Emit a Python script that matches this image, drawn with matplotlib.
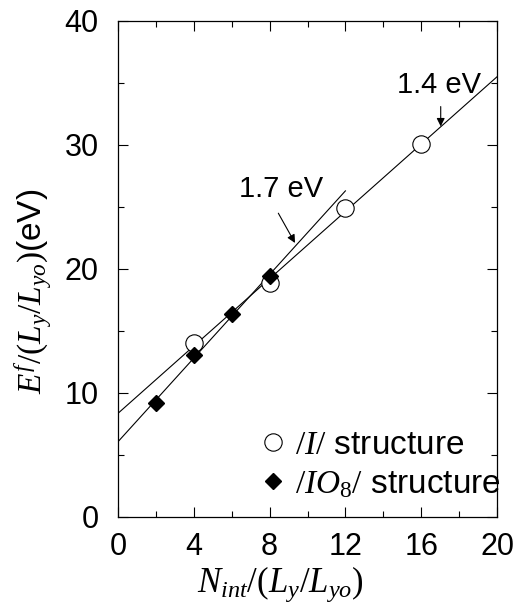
import matplotlib
matplotlib.use("Agg")
import matplotlib.pyplot as plt
from matplotlib.ticker import MultipleLocator

plt.rcParams['font.family'] = ['Liberation Sans', 'DejaVu Sans']
plt.rcParams['mathtext.fontset'] = 'custom'
plt.rcParams['mathtext.it'] = 'Liberation Serif:italic'
plt.rcParams['mathtext.rm'] = 'Liberation Serif'
plt.rcParams['mathtext.bf'] = 'Liberation Serif:bold'

# Data
i_x = [4, 8, 12, 16]
i_y = [14.05, 18.85, 24.9, 30.1]
io8_x = [2, 4, 6, 8]
io8_y = [9.2, 13.05, 16.35, 19.45]

# Fit lines (endpoints)
fit14_x = [0, 20]
fit14_y = [8.36, 35.5]
fit17_x = [0, 12]
fit17_y = [6.07, 26.3]

fig = plt.figure(figsize=(5.17, 6.11), dpi=100)
ax = fig.add_axes([118/517, 1 - 517/611, 379/517, 496/611])

ax.plot(fit14_x, fit14_y, color='black', lw=0.8)
ax.plot(fit17_x, fit17_y, color='black', lw=0.8)
ax.plot(i_x, i_y, 'o', mfc='white', mec='black', ms=12.5, mew=0.8,
        label=r'$/I/$ structure', zorder=3)
ax.plot(io8_x, io8_y, 'D', mfc='black', mec='black', ms=8.5,
        label=r'$/IO_{\mathit{8}}/$ structure', zorder=4)

ax.set_xlim(0, 20)
ax.set_ylim(0, 40)
ax.xaxis.set_major_locator(MultipleLocator(4))
ax.xaxis.set_minor_locator(MultipleLocator(2))
ax.yaxis.set_major_locator(MultipleLocator(10))
ax.yaxis.set_minor_locator(MultipleLocator(5))
ax.tick_params(which='both', direction='in', top=True, right=True, labelsize=22, width=0.8)
ax.tick_params(which='major', length=7)
ax.tick_params(axis='x', which='major', pad=11)
ax.tick_params(axis='y', which='major', pad=14)
ax.tick_params(which='minor', length=4)
for s in ax.spines.values():
    s.set_linewidth(0.9)

ax.set_xlabel(r'$N_{int}/(L_y/L_{yo})$', fontsize=25)
ax.set_ylabel(r'$E^f/(L_y/L_{yo})$(eV)', fontsize=24)
ax.xaxis.set_label_coords(0.428, -0.095)
ax.yaxis.set_label_coords(-0.17, 0.455)

ax.text(16.94, 34.8, '1.4 eV', fontsize=21, ha='center', va='center')
ax.annotate('', xy=(17.03, 31.5), xytext=(17.03, 33.1),
            arrowprops=dict(arrowstyle='-|>', color='black', lw=0.8,
                            mutation_scale=12, shrinkA=0, shrinkB=0))
ax.annotate('', xy=(9.34, 22.1), xytext=(8.46, 24.5),
            arrowprops=dict(arrowstyle='-|>', color='black', lw=0.8,
                            mutation_scale=12, shrinkA=0, shrinkB=0))
ax.text(8.6, 26.45, '1.7 eV', fontsize=21, ha='center', va='center')

leg = ax.legend(loc='center left', bbox_to_anchor=(0.365, 0.105), frameon=False,
                fontsize=24, handlelength=1.0, handletextpad=0.17,
                borderpad=0, borderaxespad=0, labelspacing=0.25, numpoints=1)

fig.savefig('out.png', dpi=100)
